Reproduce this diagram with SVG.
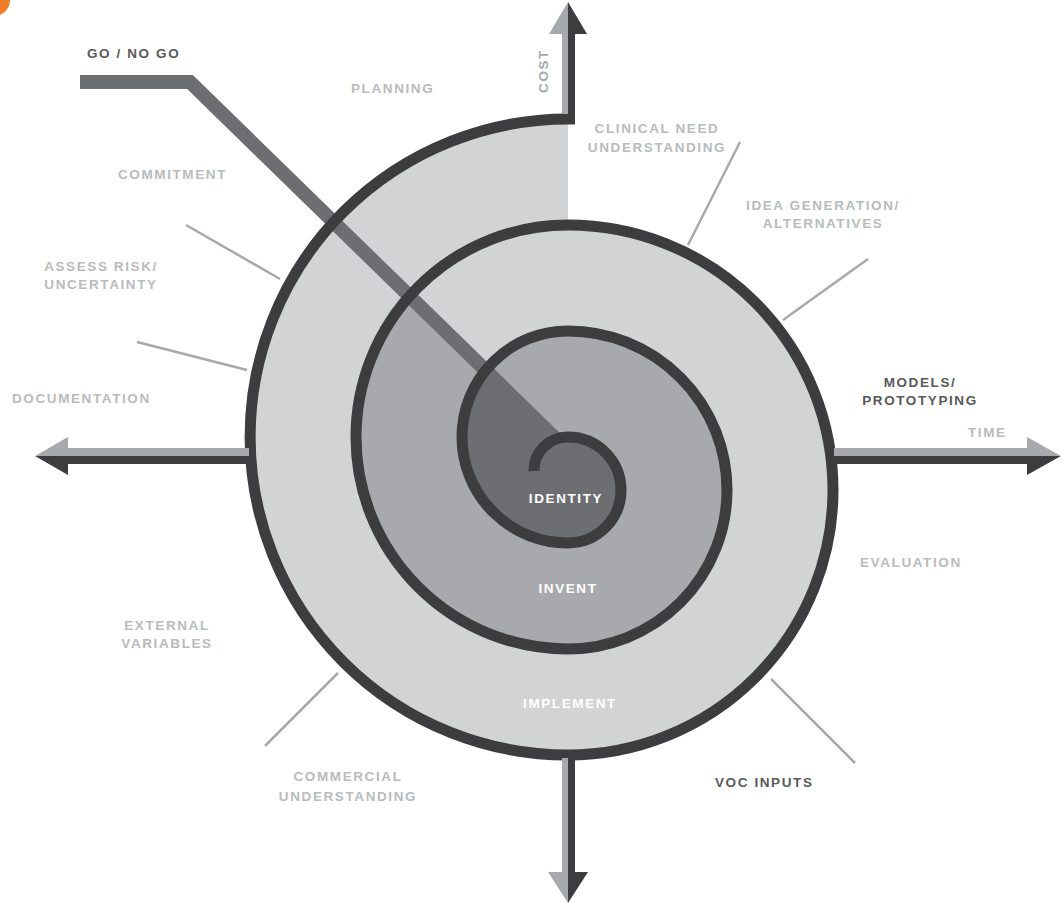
<svg xmlns="http://www.w3.org/2000/svg" width="1064" height="905" viewBox="0 0 1064 905">
  <style>
    .lbl { font-family: "Liberation Sans", Arial, sans-serif; font-weight: 700; font-size: 13.5px; letter-spacing: 1.6px; fill: #b9bbbd; }
    .dk { fill: #58595b; }
    .wh { fill: #ffffff; }
    .mid { text-anchor: middle; }
    .ptr { stroke: #a7a9ac; stroke-width: 2.5; fill: none; }
    .lt { fill: #a7a9ac; }
    .dkf { fill: #3d3c3e; }
    .spiral { fill: none; stroke: #3d3c3e; stroke-width: 11; stroke-linecap: butt; }
  </style>
  <rect width="1064" height="905" fill="#ffffff"/>
  <circle cx="-6" cy="0" r="16" fill="#f07c2a"/>

  <g id="fills">
    <path id="implement-fill" d="M 568 119 L 568 225 A 265 265 0 0 1 568 755 A 318 318 0 0 1 568 119 Z" fill="#d1d3d4"/>
    <path id="invent-fill" d="M 568 331 A 159 159 0 0 1 568 649 A 212 212 0 0 1 410 296 L 486 370 A 106 106 0 0 1 568 331 Z" fill="#a7a9ac"/>
    <path id="identity-fill" d="M 486 370 L 556 439 A 34 33 0 0 1 568 437 A 53 53 0 0 1 568 543 A 106 106 0 0 1 486 370 Z" fill="#6d6e71"/>
  </g>

  <g id="go-no-go">
    <polyline points="80,82 190,82 556,439" fill="none" stroke="#6d6e71" stroke-width="14" stroke-linejoin="miter"/>
    <text class="lbl dk" x="87" y="58">GO / NO GO</text>
  </g>

  <g id="spiral">
    <path class="spiral" d="M 534 471 A 34 33 0 0 1 568 437 A 53 53 0 0 1 568 543 A 106 106 0 0 1 568 331 A 159 159 0 0 1 568 649 A 212 212 0 0 1 568 225 A 265 265 0 0 1 568 755 A 318 318 0 0 1 568 119 L 575 119"/>
  </g>

  <g id="connectors">
    <g id="axis-cost">
      <rect class="lt" x="562" y="33" width="6" height="81"/>
      <rect class="dkf" x="568" y="33" width="7" height="91"/>
      <polygon class="lt" points="549,34 568,2 568,34"/>
      <polygon class="dkf" points="568,2 587,34 568,34"/>
    </g>
    <g id="axis-time">
      <rect class="lt" x="834" y="448" width="194" height="8"/>
      <rect class="dkf" x="834" y="456" width="194" height="8"/>
      <polygon class="lt" points="1027,437 1061,456 1027,456"/>
      <polygon class="dkf" points="1027,456 1061,456 1027,475"/>
    </g>
    <g id="axis-left">
      <rect class="lt" x="67" y="448" width="182" height="8"/>
      <rect class="dkf" x="67" y="456" width="182" height="8"/>
      <polygon class="lt" points="68,437 35,456 68,456"/>
      <polygon class="dkf" points="68,456 35,456 68,475"/>
    </g>
    <g id="axis-down">
      <rect class="lt" x="562" y="758" width="6" height="115"/>
      <rect class="dkf" x="568" y="758" width="7" height="115"/>
      <polygon class="lt" points="548,872 568,872 568,903"/>
      <polygon class="dkf" points="568,872 588,872 568,903"/>
    </g>
    <line class="ptr" x1="740" y1="142" x2="688" y2="245"/>
    <line class="ptr" x1="868" y1="259" x2="783" y2="320"/>
    <line class="ptr" x1="186" y1="225" x2="280" y2="279"/>
    <line class="ptr" x1="137" y1="342" x2="247" y2="370"/>
    <line class="ptr" x1="265" y1="746" x2="338" y2="673"/>
    <line class="ptr" x1="771" y1="679" x2="855" y2="763"/>
  </g>

  <g id="inner-labels">
    <text class="lbl wh mid" x="566" y="503">IDENTITY</text>
    <text class="lbl wh mid" x="568" y="593">INVENT</text>
    <text class="lbl wh mid" x="570" y="708">IMPLEMENT</text>
  </g>

  <g id="label-cost"><text class="lbl mid" transform="translate(548 71) rotate(-90)" x="0" y="0" style="fill:#a7a9ac">COST</text></g>
  <g id="label-planning"><text class="lbl" x="351" y="93">PLANNING</text></g>
  <g id="label-clinical"><text class="lbl mid" x="657" y="133">CLINICAL NEED</text><text class="lbl mid" x="657" y="152">UNDERSTANDING</text></g>
  <g id="label-idea"><text class="lbl mid" x="823" y="210">IDEA GENERATION/</text><text class="lbl mid" x="823" y="228">ALTERNATIVES</text></g>
  <g id="label-commitment"><text class="lbl" x="118" y="179">COMMITMENT</text></g>
  <g id="label-risk"><text class="lbl mid" x="101" y="271">ASSESS RISK/</text><text class="lbl mid" x="101" y="289">UNCERTAINTY</text></g>
  <g id="label-documentation"><text class="lbl" x="12" y="403">DOCUMENTATION</text></g>
  <g id="label-models"><text class="lbl dk mid" x="920" y="387">MODELS/</text><text class="lbl dk mid" x="920" y="405">PROTOTYPING</text></g>
  <g id="label-time"><text class="lbl" x="968" y="437">TIME</text></g>
  <g id="label-evaluation"><text class="lbl" x="860" y="567">EVALUATION</text></g>
  <g id="label-external"><text class="lbl mid" x="167" y="630">EXTERNAL</text><text class="lbl mid" x="167" y="648">VARIABLES</text></g>
  <g id="label-commercial"><text class="lbl mid" x="348" y="781">COMMERCIAL</text><text class="lbl mid" x="348" y="801">UNDERSTANDING</text></g>
  <g id="label-voc"><text class="lbl dk" x="715" y="787">VOC INPUTS</text></g>
</svg>
